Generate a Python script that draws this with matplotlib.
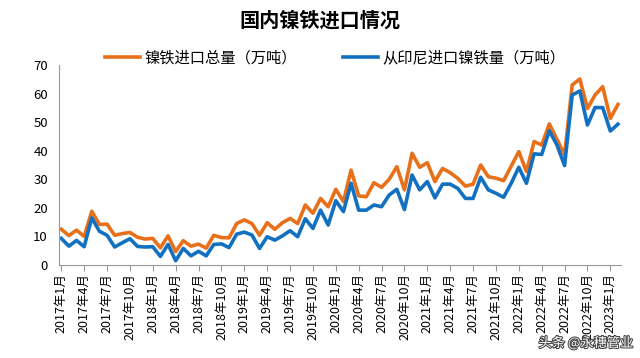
import matplotlib
matplotlib.use("Agg")
import matplotlib.pyplot as plt
import matplotlib.patheffects as pe

plt.rcParams["font.family"] = ["Noto Sans CJK SC", "DejaVu Sans"]

# ── Dados (万吨), mensal 2017-01 … 2023-02 ─────────────────────────────────────
meses = [f"{a}年{m}月" for a in range(2017, 2024) for m in range(1, 13)][:74]

total = [12.5, 10.3, 12.2, 10.0, 18.8, 14.2, 14.3, 10.4, 11.0, 11.4,
         9.7, 9.1, 9.3, 6.0, 10.2, 4.7, 8.5, 6.6, 7.3, 5.9,
         10.4, 9.6, 9.5, 14.5, 15.8, 14.5, 10.4, 14.8, 12.5, 14.8,
         16.3, 14.5, 21.0, 18.1, 23.3, 20.4, 26.5, 22.2, 33.2, 24.2,
         23.9, 28.8, 27.2, 30.0, 34.4, 26.3, 39.1, 34.2, 35.8, 29.2,
         33.8, 32.3, 30.3, 27.6, 28.3, 35.0, 30.9, 30.4, 29.5, 34.6,
         39.7, 32.7, 43.2, 42.0, 49.4, 44.0, 38.5, 63.0, 65.1, 54.8,
         59.5, 62.4, 51.3, 56.2]

indonesia = [9.3, 6.6, 8.6, 6.4, 16.5, 11.8, 10.4, 6.3, 7.8, 9.2,
             6.5, 6.3, 6.4, 3.0, 7.2, 1.5, 5.8, 3.2, 4.8, 3.2,
             7.2, 7.4, 6.1, 10.8, 11.5, 10.5, 5.8, 9.9, 8.7, 10.2,
             12.0, 9.9, 16.2, 12.8, 19.2, 14.0, 22.5, 18.7, 28.6, 19.2,
             19.2, 21.0, 20.4, 24.5, 26.5, 19.4, 31.5, 26.3, 29.2, 23.5,
             28.3, 28.3, 26.8, 23.3, 23.3, 30.7, 26.3, 25.1, 23.7, 28.6,
             34.2, 28.6, 38.9, 38.7, 47.0, 42.0, 34.8, 59.5, 60.9, 49.0,
             55.1, 55.1, 46.9, 49.3]

LARANJA = "#E8701A"
AZUL = "#1170C0"

# ── Figura ────────────────────────────────────────────────────────────────────
fig = plt.figure(figsize=(6.4, 3.58), dpi=100)
ax = fig.add_axes([59 / 640, 1 - 265 / 358, (621 - 59) / 640, 200 / 358])

x = list(range(len(meses)))
ax.plot(x, total, color=LARANJA, lw=2.6, label="镍铁进口总量（万吨）")
ax.plot(x, indonesia, color=AZUL, lw=2.6, label="从印尼进口镍铁量（万吨）")

ax.set_ylim(0, 70)
ax.set_yticks(range(0, 71, 10))
ax.set_xlim(-0.3, len(meses) - 0.6)
ticks = list(range(0, len(meses), 3))
ax.set_xticks(ticks)
ax.set_xticklabels([meses[i] for i in ticks], rotation=90, fontsize=9)
ax.tick_params(axis="y", labelsize=9.5, length=0, pad=8)
ax.tick_params(axis="x", direction="out", length=4, color="#999999", pad=2)

for lado in ["top", "right"]:
    ax.spines[lado].set_visible(False)
for lado in ["left", "bottom"]:
    ax.spines[lado].set_color("#999999")

fig.text(0.5, 1 - 20 / 358, "国内镍铁进口情况", ha="center", va="center",
         fontsize=14.5, fontweight="bold")

fig.legend(loc="center", bbox_to_anchor=(335 / 640, 1 - 58 / 358), ncol=2,
           frameon=False, fontsize=11, handlelength=2.3, columnspacing=3.0,
           handletextpad=0.3)

# marca d'água da fonte (sobreposta aos rótulos, como no original)
fig.text(0.99, 1 - 343 / 358, "头条 @永穗管业", ha="right", va="center",
         fontsize=9.5, color="white",
         path_effects=[pe.withStroke(linewidth=1.5, foreground="#444444")])

fig.savefig("out.png", dpi=100)
